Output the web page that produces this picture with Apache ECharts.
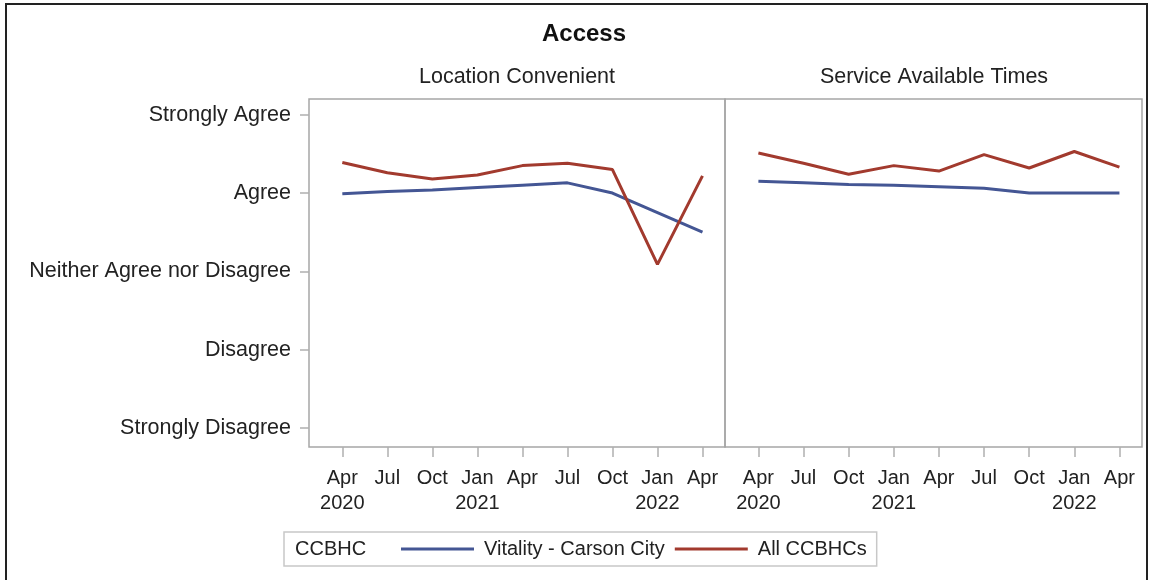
<!DOCTYPE html>
<html>
<head>
<meta charset="utf-8">
<title>Access</title>
<script src="https://cdn.jsdelivr.net/npm/echarts@6/dist/echarts.min.js"></script>
<style>
  body { margin: 0; background: #fff; }
  #chart { position: absolute; left: 0; top: 0; width: 1150px; height: 580px; }
  #frame { position: absolute; left: 5px; top: 3px; width: 1143px; height: 580px;
           border: 2px solid #222; box-sizing: border-box; pointer-events: none; }
</style>
</head>
<body>
<div id="chart"></div>
<div id="frame"></div>
<script>
// survey quarters, Apr 2020 .. Apr 2022
const xLabels = ['Apr\n2020', 'Jul', 'Oct', 'Jan\n2021', 'Apr', 'Jul', 'Oct', 'Jan\n2022', 'Apr'];
// Likert scale, value 1..5
const yLabels = ['Strongly Disagree', 'Disagree', 'Neither Agree nor Disagree', 'Agree', 'Strongly Agree'];
const panels = ['Location Convenient', 'Service Available Times'];
const seriesNames = ['Vitality - Carson City', 'All CCBHCs'];

const locVitality = [3.99, 4.02, 4.04, 4.07, 4.10, 4.13, 4.00, 3.75, 3.50];
const locAll = [4.39, 4.26, 4.18, 4.23, 4.35, 4.38, 4.30, 3.09, 4.22];
const svcVitality = [4.15, 4.13, 4.11, 4.10, 4.08, 4.06, 4.00, 4.00, 4.00];
const svcAll = [4.51, 4.38, 4.24, 4.35, 4.28, 4.49, 4.32, 4.53, 4.33];

const colors = ['#445694', '#A23A2E'];
const font = '"Liberation Sans", Arial, sans-serif';

var chart = echarts.init(document.getElementById('chart'));

const idx = xLabels.map((_, i) => i);
const yVals = yLabels.map((_, i) => i + 1);
const pairs = arr => arr.map((v, i) => [i, v]);

function xAxisFor(g) {
    return {
        type: 'value', gridIndex: g, min: -0.74, max: 8.5,
        axisLine: { show: false, onZero: false },
        splitLine: { show: false },
        axisTick: { customValues: idx, length: 10, lineStyle: { color: '#b0b0b0', width: 1.5 } },
        axisLabel: {
            customValues: idx, margin: 19, lineHeight: 25,
            fontSize: 20, color: '#222', fontFamily: font,
            formatter: v => xLabels[v]
        }
    };
}

function yAxisFor(g, withLabels) {
    return {
        type: 'value', gridIndex: g, min: 0.76, max: 5.2,
        axisLine: { show: false, onZero: false },
        splitLine: { show: false },
        axisTick: { show: withLabels, customValues: yVals, length: 9, lineStyle: { color: '#b0b0b0', width: 1.5 } },
        axisLabel: {
            show: withLabels, customValues: yVals, margin: 18,
            fontSize: 21.5, color: '#222', fontFamily: font,
            formatter: v => yLabels[v - 1]
        }
    };
}

function lineSeries(name, data, g, c) {
    return {
        name: name, type: 'line', xAxisIndex: g, yAxisIndex: g,
        data: pairs(data), symbol: 'none', silent: true,
        lineStyle: { color: colors[c], width: 3 },
        itemStyle: { color: colors[c] }
    };
}

var option = {
    animation: false,
    textStyle: { fontFamily: font },
    title: [
        { text: 'Access', left: 584, top: 22, padding: 0, textAlign: 'center',
          textStyle: { fontSize: 24, fontWeight: 'bold', color: '#111', fontFamily: font } },
        { text: panels[0], left: 517, top: 66, padding: 0, textAlign: 'center',
          textStyle: { fontSize: 21.5, fontWeight: 'normal', color: '#222', fontFamily: font } },
        { text: panels[1], left: 934, top: 66, padding: 0, textAlign: 'center',
          textStyle: { fontSize: 21.5, fontWeight: 'normal', color: '#222', fontFamily: font } },
        { text: 'CCBHC', left: 295, top: 539, padding: 0,
          textStyle: { fontSize: 20, fontWeight: 'normal', color: '#222', fontFamily: font } }
    ],
    legend: {
        left: 284, top: 532,
        padding: [7, 10, 7, 117],
        borderColor: '#c8c8c8', borderWidth: 1.5,
        icon: 'rect', itemWidth: 73, itemHeight: 3, itemGap: 10,
        data: seriesNames,
        textStyle: { fontSize: 20, color: '#222', fontFamily: font, padding: [0, 0, 0, 5] }
    },
    grid: [
        { left: 309, top: 99, width: 416, height: 348, show: true, borderColor: '#a6a6a6', borderWidth: 1.5, backgroundColor: 'transparent' },
        { left: 725, top: 99, width: 417, height: 348, show: true, borderColor: '#a6a6a6', borderWidth: 1.5, backgroundColor: 'transparent' }
    ],
    xAxis: [xAxisFor(0), xAxisFor(1)],
    yAxis: [yAxisFor(0, true), yAxisFor(1, false)],
    series: [
        lineSeries(seriesNames[0], locVitality, 0, 0),
        lineSeries(seriesNames[1], locAll, 0, 1),
        lineSeries(seriesNames[0], svcVitality, 1, 0),
        lineSeries(seriesNames[1], svcAll, 1, 1)
    ]
};

chart.setOption(option);
window.addEventListener('resize', chart.resize);
</script>
</body>
</html>
